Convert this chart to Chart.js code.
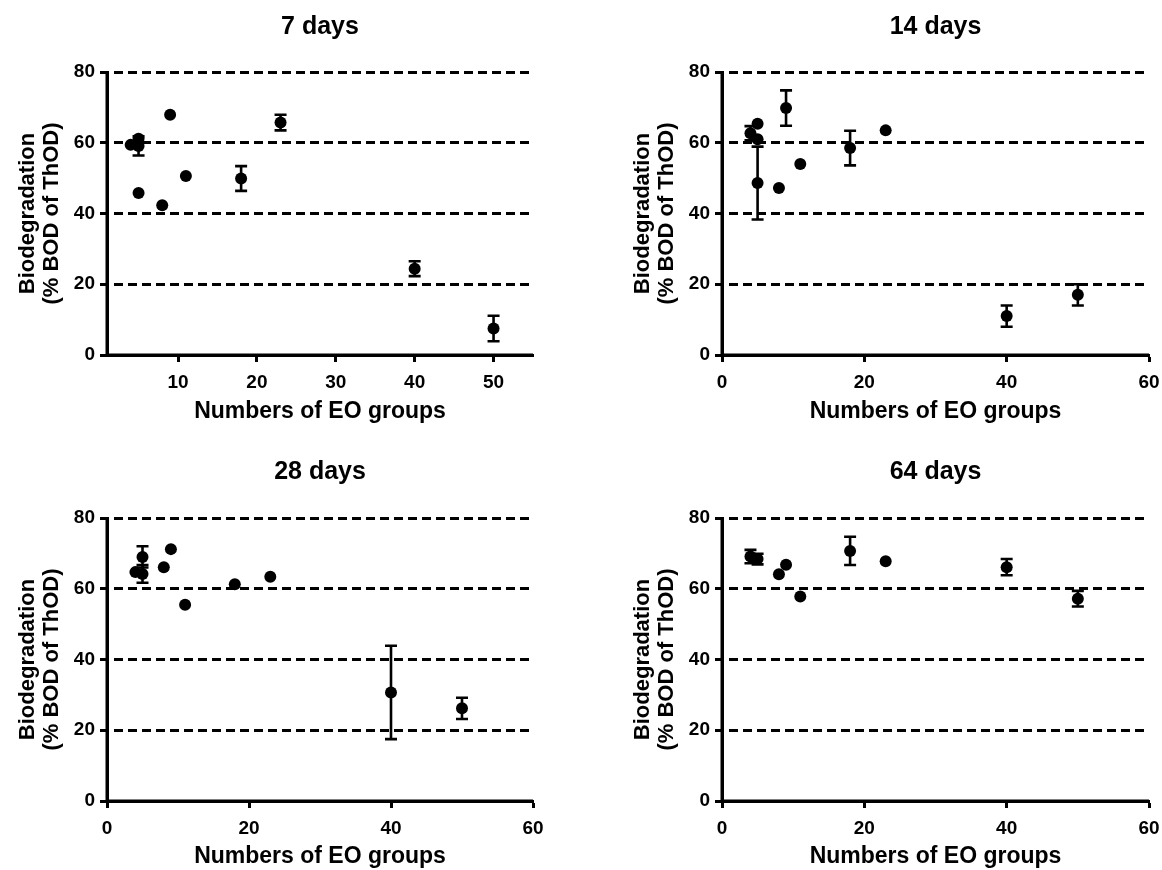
<!DOCTYPE html>
<html>
<head>
<meta charset="utf-8">
<script src="https://cdn.jsdelivr.net/npm/chart.js@4.4.1/dist/chart.umd.min.js"></script>
<style>
  html, body { margin: 0; padding: 0; background: #ffffff; }
  body { width: 1162px; height: 870px; position: relative; overflow: hidden; }
  canvas { position: absolute; }
</style>
</head>
<body>
<canvas id="c7" width="581" height="435" style="left:0px;top:0px;width:581px;height:435px"></canvas>
<canvas id="c14" width="547" height="435" style="left:615px;top:0px;width:547px;height:435px"></canvas>
<canvas id="c28" width="581" height="435" style="left:0px;top:435px;width:581px;height:435px"></canvas>
<canvas id="c64" width="547" height="435" style="left:615px;top:435px;width:547px;height:435px"></canvas>
<script>
// ---------------- data ----------------
const panelTitles = ['7 days', '14 days', '28 days', '64 days'];
const xAxisTitle = 'Numbers of EO groups';
const yAxisTitle = ['Biodegradation', '(% BOD of ThOD)'];
const yTicks = [0, 20, 40, 60, 80];
const xTicks7 = [10, 20, 30, 40, 50];
const xTicksWide = [0, 20, 40, 60];

// 7 days
const eo7   = [4, 5, 5, 5, 8, 9, 11, 18, 23, 40, 50];
const bod7  = [59.4, 61.1, 59.1, 45.8, 42.3, 67.9, 50.6, 49.9, 65.7, 24.4, 7.5];
const sd7   = [0, 0, 2.7, 0, 0, 0, 0, 3.5, 2.2, 2.1, 3.6];
// 14 days
const eo14  = [4, 5, 5, 5, 8, 9, 11, 18, 23, 40, 50];
const bod14 = [62.7, 65.4, 61.0, 48.6, 47.2, 69.8, 54.0, 58.5, 63.5, 11.0, 17.0];
const sd14  = [2.0, 0, 0, 10.3, 0, 5.0, 0, 4.9, 0, 3.0, 3.0];
// 28 days
const eo28  = [4, 5, 5, 8, 9, 11, 18, 23, 40, 50];
const bod28 = [64.7, 69.0, 64.2, 66.1, 71.2, 55.5, 61.3, 63.4, 30.7, 26.2];
const sd28  = [0, 3.0, 2.5, 0, 0, 0, 0, 0, 13.2, 3.0];
// 64 days
const eo64  = [4, 5, 8, 9, 11, 18, 23, 40, 50];
const bod64 = [69.1, 68.4, 64.1, 66.8, 57.8, 70.7, 67.8, 66.1, 57.2];
const sd64  = [1.9, 1.5, 0, 0, 0, 4.0, 0, 2.3, 2.2];

// ---------------- rendering ----------------
const FONT = "'Liberation Sans', Arial, Helvetica, sans-serif";

const errorBarPlugin = {
  id: 'errorBars',
  beforeDatasetsDraw(chart) {
    const ctx = chart.ctx;
    const xs = chart.scales.x, ys = chart.scales.y;
    chart.data.datasets.forEach(ds => {
      if (!ds.errors) return;
      ctx.save();
      ctx.strokeStyle = '#000';
      ctx.lineWidth = 2.6;
      ctx.lineCap = 'butt';
      ds.data.forEach((p, i) => {
        const e = ds.errors[i];
        if (!e) return;
        const px = xs.getPixelForValue(p.x);
        const yt = ys.getPixelForValue(p.y + e);
        const yb = ys.getPixelForValue(p.y - e);
        const cap = 6;
        ctx.beginPath();
        ctx.moveTo(px, yt); ctx.lineTo(px, yb);
        ctx.moveTo(px - cap, yt); ctx.lineTo(px + cap, yt);
        ctx.moveTo(px - cap, yb); ctx.lineTo(px + cap, yb);
        ctx.stroke();
      });
      ctx.restore();
    });
  }
};

// solid axis lines drawn over the (dashed) grid
const solidAxesPlugin = {
  id: 'solidAxes',
  afterDraw(chart) {
    const a = chart.chartArea;
    const ctx = chart.ctx;
    ctx.save();
    ctx.setLineDash([]);
    ctx.strokeStyle = '#000';
    ctx.lineWidth = 3;
    ctx.beginPath();
    ctx.moveTo(a.left, a.top);
    ctx.lineTo(a.left, a.bottom);
    ctx.lineTo(a.right, a.bottom);
    ctx.stroke();
    ctx.restore();
  }
};

function makeChart(id, title, xs, ys, errs, xMin, xMax, xTickVals, rightPad, titlePad, xAxisH, xTitlePadB) {
  const pts = xs.map((x, i) => ({ x: x, y: ys[i] }));
  return new Chart(document.getElementById(id), {
    type: 'scatter',
    data: {
      datasets: [{
        data: pts,
        errors: errs,
        backgroundColor: '#000',
        borderColor: '#000',
        borderWidth: 0,
        pointRadius: 6,
        pointHoverRadius: 6,
        showLine: false,
        clip: false
      }]
    },
    plugins: [errorBarPlugin, solidAxesPlugin],
    options: {
      responsive: false,
      animation: false,
      devicePixelRatio: 1,
      events: [],
      layout: { padding: { left: 0, right: rightPad, top: 0, bottom: 0 } },
      plugins: {
        legend: { display: false },
        tooltip: { enabled: false },
        title: {
          display: true,
          text: title,
          fullSize: false,
          color: '#000',
          font: { family: FONT, size: 25, weight: 'bold', lineHeight: 1.2 },
          padding: { top: titlePad[0], bottom: titlePad[1] }
        }
      },
      scales: {
        x: {
          type: 'linear',
          min: xMin,
          max: xMax,
          afterBuildTicks: s => { s.ticks = xTickVals.map(v => ({ value: v })); },
          afterFit: s => { s.height = xAxisH; s.paddingLeft = 0; s.paddingRight = 0; },
          border: { display: true, color: '#000', width: 3 },
          grid: {
            display: true,
            drawOnChartArea: false,
            drawTicks: true,
            tickLength: 7,
            tickWidth: 3,
            tickColor: '#000',
            color: '#000'
          },
          ticks: {
            color: '#000',
            padding: 9,
            maxRotation: 0,
            font: { family: FONT, size: 19, weight: 'bold' }
          },
          title: {
            display: true,
            text: xAxisTitle,
            color: '#000',
            font: { family: FONT, size: 23, weight: 'bold', lineHeight: 1.2 },
            padding: { top: 0, bottom: xTitlePadB }
          }
        },
        y: {
          type: 'linear',
          min: 0,
          max: 80,
          afterBuildTicks: s => { s.ticks = yTicks.map(v => ({ value: v })); },
          afterFit: s => { s.width = 107; s.paddingTop = 0; s.paddingBottom = 0; },
          border: { display: true, color: '#000', width: 3, dash: [9, 5], dashOffset: -5 },
          grid: {
            display: true,
            drawOnChartArea: true,
            drawTicks: true,
            color: '#000',
            lineWidth: 3,
            tickLength: 7,
            tickWidth: 3,
            tickColor: '#000',
            tickBorderDash: []
          },
          ticks: {
            color: '#000',
            padding: 5,
            font: { family: FONT, size: 19, weight: 'bold' }
          },
          title: {
            display: true,
            text: yAxisTitle,
            color: '#000',
            font: { family: FONT, size: 22, weight: 'bold', lineHeight: 1.1 },
            padding: { top: 16, bottom: 0 }
          }
        }
      }
    }
  });
}

makeChart('c7',  panelTitles[0], eo7,  bod7,  sd7,  1, 55, xTicks7,    48, [12, 30], 80, 10);
makeChart('c14', panelTitles[1], eo14, bod14, sd14, 0, 60, xTicksWide, 13, [12, 30], 80, 10);
makeChart('c28', panelTitles[2], eo28, bod28, sd28, 0, 60, xTicksWide, 48, [22, 31], 69, 0);
makeChart('c64', panelTitles[3], eo64, bod64, sd64, 0, 60, xTicksWide, 13, [22, 31], 69, 0);
</script>
</body>
</html>
